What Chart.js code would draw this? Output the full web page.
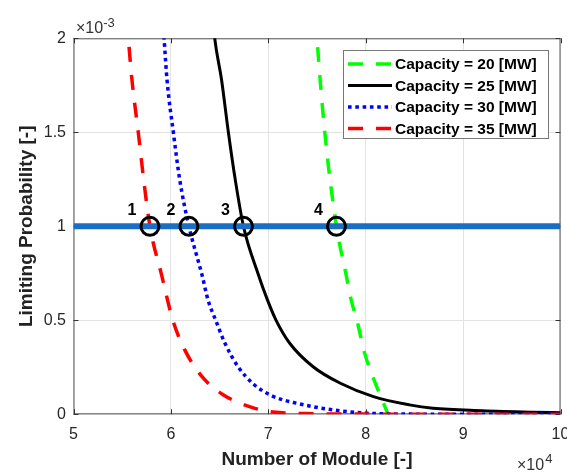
<!DOCTYPE html>
<html>
<head>
<meta charset="utf-8">
<script src="https://cdn.jsdelivr.net/npm/chart.js@4/dist/chart.umd.min.js"></script>
<style>
  body { margin: 0; background: #fff; }
  #wrap { width: 567px; height: 473px; position: relative; }
</style>
</head>
<body>
<div id="wrap"><canvas id="limitChart"></canvas></div>
<script>
// Values. x in units of 1e4 modules, y in units of 1e-3
const xTicks = [5, 6, 7, 8, 9, 10];
const yTicks = [0, 0.5, 1, 1.5, 2];

const cap20X = [7.45, 7.50, 7.58, 7.70, 7.80, 7.85, 7.91, 7.99, 8.10, 8.23];
const cap20Y = [2.4, 2.0, 1.5, 1.0, 0.74, 0.61, 0.5, 0.324, 0.165, 0];

const cap25X = [6.38, 6.45, 6.52, 6.59, 6.66, 6.745, 6.90, 6.99, 7.08, 7.22, 7.46, 7.74, 8.08, 8.45, 8.69, 9.2, 9.72, 10];
const cap25Y = [2.4, 2.0, 1.78, 1.5, 1.25, 1.0, 0.74, 0.61, 0.5, 0.378, 0.253, 0.165, 0.094, 0.05, 0.032, 0.019, 0.011, 0.008];

const cap30X = [5.88, 5.93, 5.96, 6.025, 6.09, 6.185, 6.32, 6.38, 6.46, 6.555, 6.69, 6.85, 7.03, 7.3, 7.67, 8.01, 8.5, 9.0, 10];
const cap30Y = [2.4, 2.0, 1.78, 1.5, 1.25, 1.0, 0.74, 0.61, 0.5, 0.378, 0.253, 0.16, 0.1, 0.058, 0.023, 0.006, 0.001, 0, 0];

const cap35X = [5.50, 5.563, 5.60, 5.665, 5.72, 5.785, 5.905, 6.02, 6.145, 6.32, 6.54, 6.83, 7.05, 7.4, 8.0, 9.0, 10];
const cap35Y = [2.4, 2.0, 1.78, 1.5, 1.25, 1.0, 0.74, 0.5, 0.34, 0.2, 0.103, 0.037, 0.012, 0.004, 0.001, 0, 0];

const limitX = [5, 10];
const limitY = [1, 1];

const markerX = [5.785, 6.185, 6.745, 7.70];
const markerY = [1, 1, 1, 1];
const markerLabels = ["1", "2", "3", "4"];

const seriesLabels = ["Capacity = 20 [MW]", "Capacity = 25 [MW]", "Capacity = 30 [MW]", "Capacity = 35 [MW]"];

const FONT = "'Liberation Sans', Arial, sans-serif";

function toPoints(xs, ys) {
  return xs.map((x, i) => ({ x: x, y: ys[i] }));
}

// axes box with inward ticks, matlab style
const boxPlugin = {
  id: "boxPlugin",
  beforeDatasetsDraw(chart) {
    const ctx = chart.ctx;
    const a = chart.chartArea;
    const sx = chart.scales.x, sy = chart.scales.y;
    ctx.save();
    ctx.strokeStyle = "#555";
    ctx.lineWidth = 1;
    ctx.strokeRect(a.left + 0.5, a.top + 0.5, a.right - a.left - 1, a.bottom - a.top - 1);
    ctx.strokeStyle = "#333";
    ctx.beginPath();
    xTicks.forEach((t) => {
      const px = Math.round(sx.getPixelForValue(t)) + 0.5;
      ctx.moveTo(px, a.bottom); ctx.lineTo(px, a.bottom - 5);
      ctx.moveTo(px, a.top); ctx.lineTo(px, a.top + 5);
    });
    yTicks.forEach((t) => {
      const py = Math.round(sy.getPixelForValue(t)) + 0.5;
      ctx.moveTo(a.left, py); ctx.lineTo(a.left + 5, py);
      ctx.moveTo(a.right, py); ctx.lineTo(a.right - 5, py);
    });
    ctx.stroke();
    ctx.restore();
  },
  afterDraw(chart) {
    const ctx = chart.ctx;
    const a = chart.chartArea;
    const sx = chart.scales.x, sy = chart.scales.y;
    ctx.save();

    // axis titles
    ctx.fillStyle = "#222";
    ctx.font = "bold 19px " + FONT;
    ctx.textAlign = "center";
    ctx.textBaseline = "middle";
    ctx.fillText("Number of Module [-]", (a.left + a.right) / 2, 460);
    ctx.save();
    ctx.translate(27, (a.top + a.bottom) / 2);
    ctx.rotate(-Math.PI / 2);
    ctx.fillText("Limiting Probability [-]", 0, 0);
    ctx.restore();

    // exponent labels
    ctx.fillStyle = "#333";
    ctx.textAlign = "left";
    ctx.textBaseline = "alphabetic";
    ctx.font = "16px " + FONT;
    ctx.fillText("\u00d710", 76, 33);
    let w = ctx.measureText("\u00d710").width;
    ctx.font = "13px " + FONT;
    ctx.fillText("-3", 76 + w, 27);
    ctx.font = "16px " + FONT;
    ctx.fillText("\u00d710", 517, 470);
    w = ctx.measureText("\u00d710").width;
    ctx.font = "13px " + FONT;
    ctx.fillText("4", 517 + w + 1, 463);

    // marker numbers
    ctx.fillStyle = "#000";
    ctx.font = "bold 16px " + FONT;
    ctx.textAlign = "center";
    ctx.textBaseline = "middle";
    markerLabels.forEach((lab, i) => {
      const px = sx.getPixelForValue(markerX[i]);
      const py = sy.getPixelForValue(markerY[i]);
      ctx.fillText(lab, px - 18, py - 16);
    });

    // legend
    const lx = 343.5, ly = 50.5, lw = 205, lh = 88;
    ctx.fillStyle = "#fff";
    ctx.fillRect(lx, ly, lw, lh);
    ctx.strokeStyle = "#777";
    ctx.lineWidth = 1;
    ctx.strokeRect(lx, ly, lw, lh);
    const rows = [64, 85.5, 107, 128.5];
    const order = [5, 4, 3, 2]; // dataset indexes for 20, 25, 30, 35
    order.forEach((di, i) => {
      const ds = chart.data.datasets[di];
      ctx.save();
      ctx.strokeStyle = ds.borderColor;
      ctx.lineWidth = ds.borderWidth;
      ctx.setLineDash(ds.borderDash || []);
      ctx.beginPath();
      ctx.moveTo(348, rows[i]);
      ctx.lineTo(392, rows[i]);
      ctx.stroke();
      ctx.restore();
      ctx.fillStyle = "#000";
      ctx.font = "bold 15.5px " + FONT;
      ctx.textAlign = "left";
      ctx.textBaseline = "middle";
      ctx.fillText(seriesLabels[i], 395, rows[i] + 1);
    });
    ctx.restore();
  },
};

function initializeChart() {
  const ctx = document.getElementById("limitChart").getContext("2d");
  new Chart(ctx, {
    type: "scatter",
    data: {
      datasets: [
        {
          label: "points",
          data: toPoints(markerX, markerY),
          showLine: false,
          pointRadius: 9,
          pointBorderWidth: 3,
          pointBorderColor: "#000",
          pointBackgroundColor: "rgba(0,0,0,0)",
        },
        {
          label: "limit",
          data: toPoints(limitX, limitY),
          showLine: true,
          borderColor: "#1a6fc4",
          borderWidth: 6,
          pointRadius: 0,
        },
        {
          label: seriesLabels[3],
          data: toPoints(cap35X, cap35Y),
          showLine: true,
          borderColor: "#ff0000",
          borderWidth: 3.5,
          borderDash: [15, 13],
          pointRadius: 0,
          cubicInterpolationMode: "monotone",
        },
        {
          label: seriesLabels[2],
          data: toPoints(cap30X, cap30Y),
          showLine: true,
          borderColor: "#0000ff",
          borderWidth: 3.5,
          borderDash: [3.6, 3.7],
          pointRadius: 0,
          cubicInterpolationMode: "monotone",
        },
        {
          label: seriesLabels[1],
          data: toPoints(cap25X, cap25Y),
          showLine: true,
          borderColor: "#000000",
          borderWidth: 3,
          pointRadius: 0,
          cubicInterpolationMode: "monotone",
        },
        {
          label: seriesLabels[0],
          data: toPoints(cap20X, cap20Y),
          showLine: true,
          borderColor: "#00ff00",
          borderWidth: 3.5,
          borderDash: [15, 13],
          pointRadius: 0,
          cubicInterpolationMode: "monotone",
        },
      ],
    },
    options: {
      responsive: true,
      maintainAspectRatio: false,
      animation: false,
      layout: { autoPadding: false, padding: { left: 0, right: 6.5, top: 38.3, bottom: 0 } },
      plugins: {
        legend: { display: false },
        tooltip: { enabled: false },
      },
      scales: {
        x: {
          type: "linear",
          min: 5,
          max: 10,
          afterFit: (scale) => {
            scale.height = 58.7;
            scale.paddingLeft = 0;
            scale.paddingRight = 0;
          },
          afterBuildTicks: (scale) => { scale.ticks = xTicks.map((v) => ({ value: v })); },
          ticks: {
            maxRotation: 0,
            autoSkip: false,
            padding: 11,
            color: "#262626",
            font: { family: FONT, size: 16 },
            callback: (v) => String(v),
          },
          grid: { color: "#e3e3e3", drawTicks: false },
          border: { display: false },
        },
        y: {
          type: "linear",
          min: 0,
          max: 2,
          afterFit: (scale) => {
            scale.width = 73.5;
            scale.paddingTop = 0;
            scale.paddingBottom = 0;
          },
          afterBuildTicks: (scale) => { scale.ticks = yTicks.map((v) => ({ value: v })); },
          ticks: {
            padding: 7.5,
            color: "#262626",
            font: { family: FONT, size: 16 },
            callback: (v) => String(v),
          },
          grid: { color: "#e3e3e3", drawTicks: false },
          border: { display: false },
        },
      },
    },
    plugins: [boxPlugin],
  });
}

window.onload = function () {
  initializeChart();
};
</script>
</body>
</html>
